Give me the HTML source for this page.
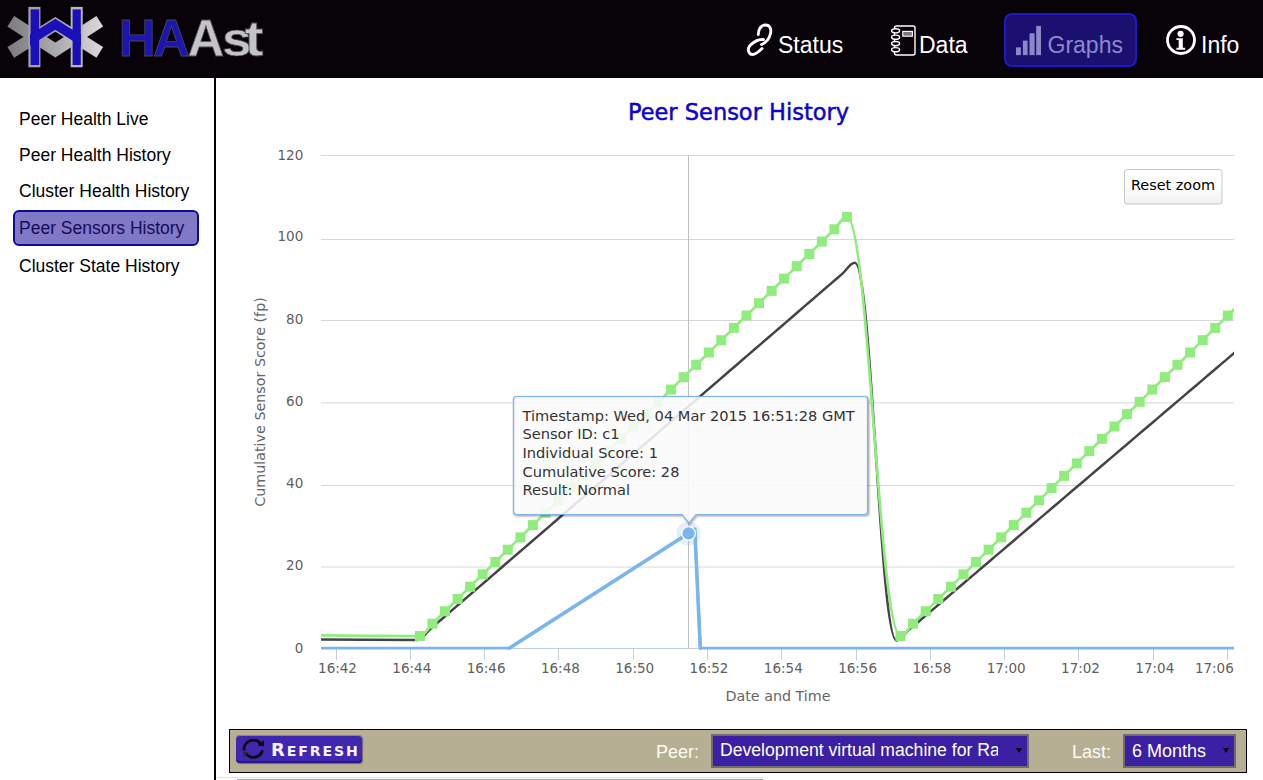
<!DOCTYPE html>
<html><head><meta charset="utf-8"><title>HAAst - Peer Sensors History</title>
<style>
html,body{margin:0;padding:0;}
body{width:1263px;height:780px;overflow:hidden;background:#fff;position:relative;font-family:"Liberation Sans",Arial,sans-serif;}
#hdr{position:absolute;left:0;top:0;width:1263px;height:77px;background:#080309;border-bottom:1px solid #000;}
#logo{position:absolute;left:0;top:0;}
#brand{position:absolute;left:0;top:0;}
.nav{position:absolute;top:0;height:77px;color:#fff;font-size:23px;}
.nav span{position:absolute;top:32px;line-height:27px;white-space:nowrap;}
#gbtn{position:absolute;left:1004px;top:13px;width:129px;height:50px;border:2px solid #2018c8;border-radius:8px;background:#1b1070;}
#side{position:absolute;left:0;top:78px;width:214px;height:702px;border-right:2px solid #000;}
#side a{position:absolute;left:19px;font-size:17.5px;color:#000;text-decoration:none;white-space:nowrap;line-height:20px;}
#side a.sel{left:13px;padding-left:4px;width:178px;height:32px;line-height:32px;background:#8179c6;border:2px solid #0e0a9a;border-radius:6px;color:#140c58;}
#chart{position:absolute;left:0;top:0;}
#bar{position:absolute;left:229px;top:729px;width:1016px;height:42px;border:1px solid #000;background:#b7af94;}
#refresh{position:absolute;left:6px;top:5px;width:126px;height:28px;border-radius:4px;background:#3f27b0;box-shadow:inset 0 1px 0 #8a7ae0, inset 0 -2px 0 #2a1585, 1px 1px 1px rgba(40,30,60,0.5);color:#fff;}
#refresh .t{position:absolute;left:35px;top:6px;font-family:"DejaVu Sans",sans-serif;font-weight:bold;font-size:14.1px;letter-spacing:1.9px;white-space:nowrap;line-height:18px;color:#f4f2ff;}
#refresh .t .big{font-size:17.9px;}
.lbl{position:absolute;top:10.5px;font-size:18px;line-height:22px;color:#fbfbf4;white-space:nowrap;}
.sel2{position:absolute;top:4px;height:29.6px;border:2px solid #6d6d6d;background:#3b20a4;color:#fff;font-size:18px;overflow:hidden;white-space:nowrap;}
.sel2 .v{position:absolute;left:7px;top:3.5px;line-height:22px;overflow:hidden;}
.sel2 .ar{position:absolute;right:5px;top:12.3px;width:0;height:0;border-left:3px solid transparent;border-right:3px solid transparent;border-top:5px solid #000;}
#foot{position:absolute;left:217px;top:777px;width:546px;height:1px;background:#dde5ec;}
#foot2{position:absolute;left:237px;top:779px;width:526px;height:1px;background:#a6a6a6;}
</style></head><body>
<div id="hdr">
<svg id="logo" width="110" height="75" viewBox="0 0 110 75">
<defs><linearGradient id="gg" x1="0" x2="1" y1="0" y2="0"><stop offset="0" stop-color="#7e7e80"/><stop offset="1" stop-color="#d6d6d8"/></linearGradient>
<clipPath id="mid"><rect x="30" y="0" width="51" height="75"/></clipPath></defs>
<polyline points="10.8,21.2 55.3,50 99.8,21.2" fill="none" stroke="url(#gg)" stroke-width="12.5" stroke-linejoin="miter" stroke-miterlimit="10"/>
<polyline points="10.8,52.4 55.3,24.3 99.8,52.4" fill="none" stroke="url(#gg)" stroke-width="12.5" stroke-linejoin="miter" stroke-miterlimit="10"/>
<rect x="28.4" y="6.9" width="12" height="60.4" fill="#a4a4a6"/>
<rect x="70.7" y="6.9" width="12" height="60.4" fill="#b8b8ba"/>
<rect x="30.6" y="9.4" width="8.6" height="55.6" fill="#1a0fb8"/>
<rect x="72.6" y="9.4" width="8.2" height="55.6" fill="#1a0fb8"/>
<polyline clip-path="url(#mid)" points="10.8,52.4 55.3,24.3 99.8,52.4" fill="none" stroke="#1a0fb8" stroke-width="9.3" stroke-linejoin="miter" stroke-miterlimit="10"/>
</svg>
<svg id="brand" width="300" height="77">
<g font-family="Liberation Sans, Arial, sans-serif" font-weight="bold" font-size="51" stroke="#4a4a4a" stroke-width="0.8">
<text x="118.7" y="56" fill="#1c14b4">H</text>
<text x="153" y="56" fill="#1c14b4">A</text>
<text x="187.5" y="56" fill="#c4c4c8">A</text>
<text transform="translate(222 56) scale(1.05 0.93)" fill="#c4c4c8">s</text>
<text transform="translate(244.6 56) scale(1.12 0.97)" fill="#c4c4c8">t</text>
</g></svg>
<div class="nav" style="left:0;width:1263px;">
<svg style="position:absolute;left:0;top:0" width="1263" height="77">
<g fill="none" stroke="#fff" stroke-width="2.9" stroke-linecap="round">
<path d="M758.3 34.5 C758.5 29 761 25 765.5 25 C770 25 771.5 29 770.5 33.5 C769.5 38 766.5 42.5 761.5 44.5"/>
<path d="M763.5 39.5 C758 39 754 41.5 750 45.5 C747 49 748.5 54.5 752.5 54.5 C756 54.5 759.5 51 762 48.5"/>
</g>
<g fill="none" stroke="#fff" stroke-width="1.4">
<rect x="894.5" y="26" width="20.5" height="29" rx="2"/>
<ellipse cx="895.6" cy="30.8" rx="4" ry="2.1" fill="#080309"/>
<ellipse cx="895.6" cy="37.2" rx="4" ry="2.1" fill="#080309"/>
<ellipse cx="895.6" cy="43.6" rx="4" ry="2.1" fill="#080309"/>
<ellipse cx="895.6" cy="49.7" rx="4" ry="2.1" fill="#080309"/>
<rect x="902.8" y="31.4" width="9.6" height="4.8" fill="#777" stroke-width="1.1"/>
</g>
<g fill="#fff">
<circle cx="1181" cy="40" r="13.5" fill="none" stroke="#fff" stroke-width="2.8"/>
<circle cx="1180.6" cy="33.8" r="3.1"/>
<path d="M1176.4 38.2 H1182.8 V47.7 H1185.1 V49.7 H1176.4 V47.7 H1178.7 V40 H1176.4 Z"/>
</g>
</svg>
<span style="left:778px;">Status</span>
<span style="left:919px;">Data</span>
<div id="gbtn"></div>
<svg style="position:absolute;left:0;top:0" width="1263" height="77">
<g fill="#8c87c8"><rect x="1016" y="47.4" width="4.9" height="7.7"/><rect x="1022.9" y="40.6" width="4.7" height="14.5"/><rect x="1029.5" y="33.3" width="5.1" height="21.8"/><rect x="1036.2" y="25.9" width="4.8" height="29.2"/></g>
</svg>
<span style="left:1047.5px;color:#8d89cc;">Graphs</span>
<span style="left:1201px;">Info</span>
</div>
</div>
<div id="side">
<a style="top:31px">Peer Health Live</a>
<a style="top:66.5px">Peer Health History</a>
<a style="top:103.3px">Cluster Health History</a>
<a class="sel" style="top:132.4px">Peer Sensors History</a>
<a style="top:178.3px">Cluster State History</a>
</div>
<svg id="chart" width="1263" height="780" viewBox="0 0 1263 780">
<defs><clipPath id="pc"><rect x="321" y="150" width="913" height="505"/></clipPath></defs>
<text x="738.5" y="119.6" text-anchor="middle" font-family="DejaVu Sans, sans-serif" font-size="22.5" fill="#0c04d0" stroke="#0c04d0" stroke-width="0.5">Peer Sensor History</text>
<text x="303.3" y="652.9" text-anchor="end" font-family="DejaVu Sans, sans-serif" font-size="13.5" fill="#606060">0</text>
<path d="M321 567.0 H1234" stroke="#D8D8D8" stroke-width="1"/>
<text x="303.3" y="570.0" text-anchor="end" font-family="DejaVu Sans, sans-serif" font-size="13.5" fill="#606060">20</text>
<path d="M321 485.5 H1234" stroke="#D8D8D8" stroke-width="1"/>
<text x="303.3" y="488.1" text-anchor="end" font-family="DejaVu Sans, sans-serif" font-size="13.5" fill="#606060">40</text>
<path d="M321 402.9 H1234" stroke="#D8D8D8" stroke-width="1"/>
<text x="303.3" y="405.9" text-anchor="end" font-family="DejaVu Sans, sans-serif" font-size="13.5" fill="#606060">60</text>
<path d="M321 320.5 H1234" stroke="#D8D8D8" stroke-width="1"/>
<text x="303.3" y="324.0" text-anchor="end" font-family="DejaVu Sans, sans-serif" font-size="13.5" fill="#606060">80</text>
<path d="M321 239.5 H1234" stroke="#D8D8D8" stroke-width="1"/>
<text x="303.3" y="240.7" text-anchor="end" font-family="DejaVu Sans, sans-serif" font-size="13.5" fill="#606060">100</text>
<path d="M321 155.5 H1234" stroke="#D8D8D8" stroke-width="1"/>
<text x="303.3" y="159.8" text-anchor="end" font-family="DejaVu Sans, sans-serif" font-size="13.5" fill="#606060">120</text>
<path d="M321 648.5 H1234" stroke="#C0D0E0" stroke-width="1"/>
<path d="M336.5 649 V660" stroke="#C0D0E0" stroke-width="1"/>
<text x="337.5" y="673" text-anchor="middle" font-family="DejaVu Sans, sans-serif" font-size="13.5" fill="#606060">16:42</text>
<path d="M410.5 649 V660" stroke="#C0D0E0" stroke-width="1"/>
<text x="411.8" y="673" text-anchor="middle" font-family="DejaVu Sans, sans-serif" font-size="13.5" fill="#606060">16:44</text>
<path d="M484.5 649 V660" stroke="#C0D0E0" stroke-width="1"/>
<text x="486.1" y="673" text-anchor="middle" font-family="DejaVu Sans, sans-serif" font-size="13.5" fill="#606060">16:46</text>
<path d="M558.5 649 V660" stroke="#C0D0E0" stroke-width="1"/>
<text x="560.4" y="673" text-anchor="middle" font-family="DejaVu Sans, sans-serif" font-size="13.5" fill="#606060">16:48</text>
<path d="M633.5 649 V660" stroke="#C0D0E0" stroke-width="1"/>
<text x="634.7" y="673" text-anchor="middle" font-family="DejaVu Sans, sans-serif" font-size="13.5" fill="#606060">16:50</text>
<path d="M707.5 649 V660" stroke="#C0D0E0" stroke-width="1"/>
<text x="709.0" y="673" text-anchor="middle" font-family="DejaVu Sans, sans-serif" font-size="13.5" fill="#606060">16:52</text>
<path d="M781.5 649 V660" stroke="#C0D0E0" stroke-width="1"/>
<text x="783.3" y="673" text-anchor="middle" font-family="DejaVu Sans, sans-serif" font-size="13.5" fill="#606060">16:54</text>
<path d="M856.5 649 V660" stroke="#C0D0E0" stroke-width="1"/>
<text x="857.6" y="673" text-anchor="middle" font-family="DejaVu Sans, sans-serif" font-size="13.5" fill="#606060">16:56</text>
<path d="M930.5 649 V660" stroke="#C0D0E0" stroke-width="1"/>
<text x="931.9" y="673" text-anchor="middle" font-family="DejaVu Sans, sans-serif" font-size="13.5" fill="#606060">16:58</text>
<path d="M1004.5 649 V660" stroke="#C0D0E0" stroke-width="1"/>
<text x="1006.2" y="673" text-anchor="middle" font-family="DejaVu Sans, sans-serif" font-size="13.5" fill="#606060">17:00</text>
<path d="M1078.5 649 V660" stroke="#C0D0E0" stroke-width="1"/>
<text x="1080.5" y="673" text-anchor="middle" font-family="DejaVu Sans, sans-serif" font-size="13.5" fill="#606060">17:02</text>
<path d="M1153.5 649 V660" stroke="#C0D0E0" stroke-width="1"/>
<text x="1154.8" y="673" text-anchor="middle" font-family="DejaVu Sans, sans-serif" font-size="13.5" fill="#606060">17:04</text>
<path d="M1227.5 649 V660" stroke="#C0D0E0" stroke-width="1"/>
<text x="1233.8" y="673" text-anchor="end" font-family="DejaVu Sans, sans-serif" font-size="13.5" fill="#606060">17:06</text>
<text x="778" y="701" text-anchor="middle" font-family="DejaVu Sans, sans-serif" font-size="14.3" fill="#666666">Date and Time</text>
<text transform="translate(264.5 402) rotate(-90)" x="0" y="0" text-anchor="middle" font-family="DejaVu Sans, sans-serif" font-size="14.3" fill="#666666">Cumulative Sensor Score (fp)</text>
<path d="M688.5 155 V648" stroke="#C0C0C0" stroke-width="1"/>
<g clip-path="url(#pc)" fill="none" stroke-linejoin="round" stroke-linecap="round">
<path d="M250.00 648.10 L509.50 648.10 L694.80 529.20 L700.30 648.10 L1300.00 648.10" stroke="#7cb5ec" stroke-width="2.8" stroke-linejoin="round"/>
<path d="M509.5 648.1 L694.8 529.2 L700.3 648.1" stroke="#7cb5ec" stroke-width="3.6" stroke-linejoin="round"/>
<path d="M250.00 638.90 C250.00 638.90 350.50 640.00 417.50 640.00 C422.50 640.00 425.00 633.53 430.00 629.22 C435.00 624.91 437.50 622.76 442.50 618.45 C447.50 614.13 450.00 611.98 455.00 607.67 C460.00 603.36 462.50 601.20 467.50 596.89 C472.50 592.58 475.00 590.43 480.00 586.11 C485.00 581.80 487.50 579.65 492.50 575.34 C497.50 571.03 500.00 568.87 505.00 564.56 C510.00 560.25 512.50 558.09 517.50 553.78 C522.50 549.47 525.00 547.32 530.00 543.01 C535.00 538.69 537.50 536.54 542.50 532.23 C547.50 527.92 550.00 525.76 555.00 521.45 C560.00 517.14 562.50 514.99 567.50 510.67 C572.50 506.36 575.00 504.21 580.00 499.90 C585.00 495.59 587.50 493.43 592.50 489.12 C597.50 484.81 600.00 482.65 605.00 478.34 C610.00 474.03 612.50 471.88 617.50 467.57 C622.50 463.25 625.00 461.10 630.00 456.79 C635.00 452.48 637.50 450.32 642.50 446.01 C647.50 441.70 650.00 439.55 655.00 435.23 C660.00 430.92 662.50 428.77 667.50 424.46 C672.50 420.15 675.00 417.99 680.00 413.68 C685.00 409.37 687.50 407.21 692.50 402.90 C697.50 398.59 700.00 396.44 705.00 392.13 C710.00 387.81 712.50 385.66 717.50 381.35 C722.50 377.04 725.00 374.88 730.00 370.57 C735.00 366.26 737.50 364.11 742.50 359.79 C747.50 355.48 750.00 353.33 755.00 349.02 C760.00 344.71 762.50 342.55 767.50 338.24 C772.50 333.93 775.00 331.77 780.00 327.46 C785.00 323.15 787.50 321.00 792.50 316.69 C797.50 312.37 800.00 310.22 805.00 305.91 C810.00 301.60 812.50 299.44 817.50 295.13 C822.50 290.82 825.00 288.67 830.00 284.35 C835.00 280.04 837.50 277.89 842.50 273.58 C847.50 269.27 850.00 262.80 855.00 262.80 C871.56 262.80 879.84 640.50 896.40 640.50 C901.40 640.50 903.90 634.12 908.90 629.86 C913.90 625.61 916.40 623.48 921.40 619.23 C926.40 614.97 928.90 612.84 933.90 608.59 C938.90 604.33 941.40 602.21 946.40 597.95 C951.40 593.70 953.90 591.57 958.90 587.31 C963.90 583.06 966.40 580.93 971.40 576.67 C976.40 572.42 978.90 570.29 983.90 566.04 C988.90 561.78 991.40 559.65 996.40 555.40 C1001.40 551.14 1003.90 549.02 1008.90 544.76 C1013.90 540.51 1016.40 538.38 1021.40 534.12 C1026.40 529.87 1028.90 527.74 1033.90 523.49 C1038.90 519.23 1041.40 517.10 1046.40 512.85 C1051.40 508.59 1053.90 506.47 1058.90 502.21 C1063.90 497.96 1066.40 495.83 1071.40 491.57 C1076.40 487.32 1078.90 485.19 1083.90 480.94 C1088.90 476.68 1091.40 474.55 1096.40 470.30 C1101.40 466.04 1103.90 463.92 1108.90 459.66 C1113.90 455.41 1116.40 453.28 1121.40 449.02 C1126.40 444.77 1128.90 442.64 1133.90 438.39 C1138.90 434.13 1141.40 432.00 1146.40 427.75 C1151.40 423.49 1153.90 421.37 1158.90 417.11 C1163.90 412.86 1166.40 410.73 1171.40 406.47 C1176.40 402.22 1178.90 400.09 1183.90 395.84 C1188.90 391.58 1191.40 389.45 1196.40 385.20 C1201.40 380.94 1203.90 378.82 1208.90 374.56 C1213.90 370.31 1216.40 368.18 1221.40 363.92 C1226.40 359.67 1228.90 357.54 1233.90 353.29 C1238.90 349.03 1241.40 346.90 1246.40 342.65 C1251.40 338.39 1258.90 332.01 1258.90 332.01" stroke="#434348" stroke-width="2.5"/>
<path d="M250.00 634.40 C250.00 634.40 351.94 635.98 419.90 635.98 C424.92 635.98 427.44 628.58 432.46 623.65 C437.48 618.72 440.00 616.26 445.02 611.33 C450.04 606.40 452.56 603.93 457.58 599.00 C462.60 594.07 465.12 591.61 470.14 586.68 C475.16 581.75 477.68 579.28 482.70 574.35 C487.72 569.42 490.24 566.96 495.26 562.03 C500.28 557.10 502.80 554.63 507.82 549.70 C512.84 544.77 515.36 542.31 520.38 537.38 C525.40 532.45 527.92 529.98 532.94 525.05 C537.96 520.12 540.48 517.66 545.50 512.73 C550.52 507.80 553.04 505.33 558.06 500.40 C563.08 495.47 565.60 493.01 570.62 488.08 C575.64 483.15 578.16 480.68 583.18 475.75 C588.20 470.82 590.72 468.36 595.74 463.43 C600.76 458.50 603.28 456.03 608.30 451.10 C613.32 446.17 615.84 443.71 620.86 438.78 C625.88 433.85 628.40 431.38 633.42 426.45 C638.44 421.52 640.96 419.06 645.98 414.13 C651.00 409.20 653.52 406.73 658.54 401.80 C663.56 396.87 666.08 394.41 671.10 389.48 C676.12 384.55 678.64 382.08 683.66 377.15 C688.68 372.22 691.20 369.76 696.22 364.83 C701.24 359.90 703.76 357.43 708.78 352.50 C713.80 347.57 716.32 345.11 721.34 340.18 C726.36 335.25 728.88 332.78 733.90 327.85 C738.92 322.92 741.44 320.46 746.46 315.53 C751.48 310.60 754.00 308.13 759.02 303.20 C764.04 298.27 766.56 295.81 771.58 290.88 C776.60 285.95 779.12 283.48 784.14 278.55 C789.16 273.62 791.68 271.16 796.70 266.23 C801.72 261.30 804.24 258.83 809.26 253.90 C814.28 248.97 816.80 246.51 821.82 241.58 C826.84 236.65 829.36 234.18 834.38 229.25 C839.40 224.32 841.92 216.93 846.94 216.93 C868.36 216.93 879.08 635.98 900.50 635.98 C905.54 635.98 908.05 628.58 913.09 623.65 C918.13 618.72 920.64 616.26 925.68 611.33 C930.72 606.40 933.23 603.93 938.27 599.00 C943.31 594.07 945.82 591.61 950.86 586.68 C955.90 581.75 958.41 579.28 963.45 574.35 C968.49 569.42 971.00 566.96 976.04 562.03 C981.08 557.10 983.59 554.63 988.63 549.70 C993.67 544.77 996.18 542.31 1001.22 537.38 C1006.26 532.45 1008.77 529.98 1013.81 525.05 C1018.85 520.12 1021.36 517.66 1026.40 512.73 C1031.44 507.80 1033.95 505.33 1038.99 500.40 C1044.03 495.47 1046.54 493.01 1051.58 488.08 C1056.62 483.15 1059.13 480.68 1064.17 475.75 C1069.21 470.82 1071.72 468.36 1076.76 463.43 C1081.80 458.50 1084.31 456.03 1089.35 451.10 C1094.39 446.17 1096.90 443.71 1101.94 438.78 C1106.98 433.85 1109.49 431.38 1114.53 426.45 C1119.57 421.52 1122.08 419.06 1127.12 414.13 C1132.16 409.20 1134.67 406.73 1139.71 401.80 C1144.75 396.87 1147.26 394.41 1152.30 389.48 C1157.34 384.55 1159.85 382.08 1164.89 377.15 C1169.93 372.22 1172.44 369.76 1177.48 364.83 C1182.52 359.90 1185.03 357.43 1190.07 352.50 C1195.11 347.57 1197.62 345.11 1202.66 340.18 C1207.70 335.25 1210.21 332.78 1215.25 327.85 C1220.29 322.92 1222.80 320.46 1227.84 315.53 C1232.88 310.60 1240.43 303.20 1240.43 303.20" stroke="#90ed7d" stroke-width="2.7"/>
</g>
<g fill="#90ed7d" clip-path="url(#pc)">
<rect x="414.9" y="631.0" width="10" height="10"/>
<rect x="427.5" y="618.7" width="10" height="10"/>
<rect x="440.0" y="606.3" width="10" height="10"/>
<rect x="452.6" y="594.0" width="10" height="10"/>
<rect x="465.1" y="581.7" width="10" height="10"/>
<rect x="477.7" y="569.4" width="10" height="10"/>
<rect x="490.3" y="557.0" width="10" height="10"/>
<rect x="502.8" y="544.7" width="10" height="10"/>
<rect x="515.4" y="532.4" width="10" height="10"/>
<rect x="527.9" y="520.1" width="10" height="10"/>
<rect x="540.5" y="507.7" width="10" height="10"/>
<rect x="553.1" y="495.4" width="10" height="10"/>
<rect x="565.6" y="483.1" width="10" height="10"/>
<rect x="578.2" y="470.8" width="10" height="10"/>
<rect x="590.7" y="458.4" width="10" height="10"/>
<rect x="603.3" y="446.1" width="10" height="10"/>
<rect x="615.9" y="433.8" width="10" height="10"/>
<rect x="628.4" y="421.5" width="10" height="10"/>
<rect x="641.0" y="409.1" width="10" height="10"/>
<rect x="653.5" y="396.8" width="10" height="10"/>
<rect x="666.1" y="384.5" width="10" height="10"/>
<rect x="678.7" y="372.2" width="10" height="10"/>
<rect x="691.2" y="359.8" width="10" height="10"/>
<rect x="703.8" y="347.5" width="10" height="10"/>
<rect x="716.3" y="335.2" width="10" height="10"/>
<rect x="728.9" y="322.9" width="10" height="10"/>
<rect x="741.5" y="310.5" width="10" height="10"/>
<rect x="754.0" y="298.2" width="10" height="10"/>
<rect x="766.6" y="285.9" width="10" height="10"/>
<rect x="779.1" y="273.6" width="10" height="10"/>
<rect x="791.7" y="261.2" width="10" height="10"/>
<rect x="804.3" y="248.9" width="10" height="10"/>
<rect x="816.8" y="236.6" width="10" height="10"/>
<rect x="829.4" y="224.3" width="10" height="10"/>
<rect x="841.9" y="211.9" width="10" height="10"/>
<rect x="895.5" y="631.0" width="10" height="10"/>
<rect x="908.1" y="618.7" width="10" height="10"/>
<rect x="920.7" y="606.3" width="10" height="10"/>
<rect x="933.3" y="594.0" width="10" height="10"/>
<rect x="945.9" y="581.7" width="10" height="10"/>
<rect x="958.5" y="569.4" width="10" height="10"/>
<rect x="971.0" y="557.0" width="10" height="10"/>
<rect x="983.6" y="544.7" width="10" height="10"/>
<rect x="996.2" y="532.4" width="10" height="10"/>
<rect x="1008.8" y="520.1" width="10" height="10"/>
<rect x="1021.4" y="507.7" width="10" height="10"/>
<rect x="1034.0" y="495.4" width="10" height="10"/>
<rect x="1046.6" y="483.1" width="10" height="10"/>
<rect x="1059.2" y="470.8" width="10" height="10"/>
<rect x="1071.8" y="458.4" width="10" height="10"/>
<rect x="1084.3" y="446.1" width="10" height="10"/>
<rect x="1096.9" y="433.8" width="10" height="10"/>
<rect x="1109.5" y="421.5" width="10" height="10"/>
<rect x="1122.1" y="409.1" width="10" height="10"/>
<rect x="1134.7" y="396.8" width="10" height="10"/>
<rect x="1147.3" y="384.5" width="10" height="10"/>
<rect x="1159.9" y="372.2" width="10" height="10"/>
<rect x="1172.5" y="359.8" width="10" height="10"/>
<rect x="1185.1" y="347.5" width="10" height="10"/>
<rect x="1197.7" y="335.2" width="10" height="10"/>
<rect x="1210.2" y="322.9" width="10" height="10"/>
<rect x="1222.8" y="310.5" width="10" height="10"/>
<rect x="1235.4" y="298.2" width="10" height="10"/>
</g>
<circle cx="688.6" cy="533.4" r="12" fill="#7cb5ec" fill-opacity="0.22"/>
<circle cx="688.6" cy="533.4" r="6.8" fill="#7cb5ec" stroke="#fff" stroke-width="1.3"/>
<defs><linearGradient id="rz" x1="0" y1="0" x2="0" y2="1"><stop offset="0" stop-color="#ffffff"/><stop offset="0.5" stop-color="#fdfdfd"/><stop offset="1" stop-color="#f0f0f0"/></linearGradient></defs>
<rect x="1124.5" y="169.5" width="97.5" height="34.5" rx="2.5" ry="2.5" fill="url(#rz)" stroke="#c8c8c8" stroke-width="1"/>
<text x="1173" y="190" text-anchor="middle" font-family="DejaVu Sans, sans-serif" font-size="14.4" fill="#000">Reset zoom</text>
<path d="M516.5 396.5 H864.5 Q867.5 396.5 867.5 399.5 V511.5 Q867.5 514.5 864.5 514.5 H696 L689 523 L682 514.5 H516.5 Q513.5 514.5 513.5 511.5 V399.5 Q513.5 396.5 516.5 396.5 Z" fill="none" stroke="#000" stroke-opacity="0.05" stroke-width="5" transform="translate(1 1)"/>
<path d="M516.5 396.5 H864.5 Q867.5 396.5 867.5 399.5 V511.5 Q867.5 514.5 864.5 514.5 H696 L689 523 L682 514.5 H516.5 Q513.5 514.5 513.5 511.5 V399.5 Q513.5 396.5 516.5 396.5 Z" fill="none" stroke="#000" stroke-opacity="0.1" stroke-width="3" transform="translate(1 1)"/>
<path d="M516.5 396.5 H864.5 Q867.5 396.5 867.5 399.5 V511.5 Q867.5 514.5 864.5 514.5 H696 L689 523 L682 514.5 H516.5 Q513.5 514.5 513.5 511.5 V399.5 Q513.5 396.5 516.5 396.5 Z" fill="none" stroke="#000" stroke-opacity="0.15" stroke-width="1" transform="translate(1 1)"/>
<path d="M516.5 396.5 H864.5 Q867.5 396.5 867.5 399.5 V511.5 Q867.5 514.5 864.5 514.5 H696 L689 523 L682 514.5 H516.5 Q513.5 514.5 513.5 511.5 V399.5 Q513.5 396.5 516.5 396.5 Z" fill="rgb(250,250,252)" fill-opacity="0.88" stroke="#7cb5ec" stroke-width="1.2"/>
<text x="522.5" y="420.8" font-family="DejaVu Sans, sans-serif" font-size="14.6" fill="#333333">Timestamp: Wed, 04 Mar 2015 16:51:28 GMT</text>
<text x="522.5" y="439.4" font-family="DejaVu Sans, sans-serif" font-size="14.6" fill="#333333">Sensor ID: c1</text>
<text x="522.5" y="458.1" font-family="DejaVu Sans, sans-serif" font-size="14.6" fill="#333333">Individual Score: 1</text>
<text x="522.5" y="476.8" font-family="DejaVu Sans, sans-serif" font-size="14.6" fill="#333333">Cumulative Score: 28</text>
<text x="522.5" y="495.4" font-family="DejaVu Sans, sans-serif" font-size="14.6" fill="#333333">Result: Normal</text>
</svg>
<div id="bar">
<div id="refresh"><svg style="position:absolute;left:0;top:0" width="40" height="28" viewBox="0 0 40 28"><g fill="none" stroke="#0a0a0a" stroke-width="2.8"><path d="M8.1 15.4 A9.3 9.3 0 0 1 24.6 8.6"/><path d="M26.5 15.4 A9.3 9.3 0 0 1 10 18.5"/></g><path d="M27.8 5.2 L27.8 11.2 L21.6 10.6 Z" fill="#0a0a0a"/><path d="M7 22 L7.2 16.2 L13 17.6 Z" fill="#2a2a30"/></svg><span class="t"><span class="big">R</span>EFRESH</span></div>
<span class="lbl" style="left:426px;">Peer:</span>
<div class="sel2" style="left:481px;width:314px;"><span class="v" style="width:278px;font-size:17.6px;top:3px;">Development virtual machine for Raspberry Pi</span><span class="ar"></span></div>
<span class="lbl" style="left:842px;">Last:</span>
<div class="sel2" style="left:893px;width:109px;"><span class="v">6 Months</span><span class="ar"></span></div>
</div>
<div id="foot"></div><div id="foot2"></div>
</body></html>
